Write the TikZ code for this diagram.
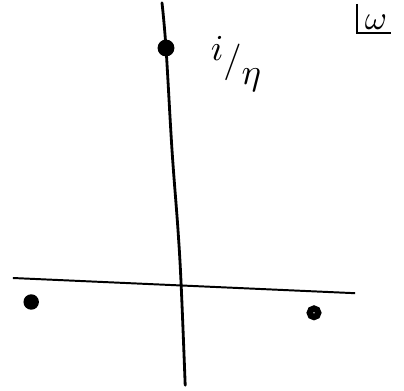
\documentclass[tikz,border=0pt]{standalone}
\usepackage{amsmath}
\begin{document}
\begin{tikzpicture}[pole/.style={circle, fill=black, inner sep=0pt, minimum size=12pt}]
\useasboundingbox (0,0) rectangle (10.1,9.75);
% axes:
\coordinate (vtop) at (4.05,9.68);\coordinate (vbot) at (4.63,0.12);
\coordinate (hleft) at (0.32,2.8);\coordinate (hright) at (8.88,2.42);
\node[pole] (ptop) at (4.15,8.55) {};
\draw[line width=2pt, line cap=round] plot[smooth, tension=0.6] coordinates {(vtop) (ptop) (4.3,6.0) (4.45,4.0) (4.53,2.6) (vbot)};
\draw[line width=1.4pt] (hleft) -- (hright);
% poles:
\node[pole, minimum size=11pt] (pleft) at (0.78,2.2) {};
\node[circle, draw, fill=white, line width=4.5pt, inner sep=0pt, minimum size=6pt] (pright) at (7.85,1.93) {};
% labels:
\node[scale=2.6] (lab) at (5.9,8.15) {$\raisebox{0.7ex}{$i$}/\raisebox{-0.8ex}{$\eta$}$};
\node[scale=2.4, inner sep=1pt] (om) at (9.4,9.2) {$\omega$};
\draw[line width=1.6pt] (8.92,9.65) |- (9.78,8.92);
\end{tikzpicture}
\end{document}
